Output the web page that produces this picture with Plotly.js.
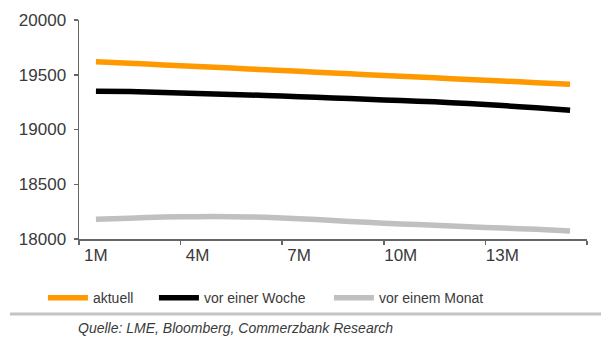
<!DOCTYPE html>
<html>
<head>
<meta charset="utf-8">
<script src="https://cdn.plot.ly/plotly-3.0.1.min.js"></script>
<style>
  html, body { margin: 0; padding: 0; background: #fff; }
  #chart { width: 601px; height: 345px; }
</style>
</head>
<body>
<div id="chart"></div>
<script>
// Forward curve tenors (months)
const tenors = ['1M','2M','3M','4M','5M','6M','7M','8M','9M','10M','11M','12M','13M','14M','15M'];
const tickLabels = ['1M','4M','7M','10M','13M'];

// Prices per tenor
const aktuell = [19618, 19604, 19590, 19575, 19561, 19546, 19531, 19516, 19501, 19487, 19472, 19457, 19442, 19428, 19414];
const vorEinerWoche = [19349, 19346, 19338, 19329, 19320, 19311, 19299, 19288, 19276, 19264, 19253, 19237, 19219, 19198, 19175];
const vorEinemMonat = [18180, 18190, 18200, 18204, 18204, 18198, 18186, 18168, 18152, 18138, 18125, 18112, 18100, 18088, 18073];

const seriesNames = ['aktuell', 'vor einer Woche', 'vor einem Monat'];
const seriesColors = ['#FF9900', '#000000', '#C0C0C0'];
const sourceText = 'Quelle: LME, Bloomberg, Commerzbank Research';

// numeric positions for each tenor; ticks sit on the category boundaries
const pos = tenors.map((_, i) => i + 1);
const labelPos = tickLabels.map(t => tenors.indexOf(t) + 1);
const boundaries = [0].concat(labelPos.map(p => p + 2)).map(b => b + 0.5);

// each series gets its own legend box so the entries can be spaced freely
const legendIds = ['legend', 'legend2', 'legend3'];
const legendX = [-0.071, 0.1475, 0.492];

const traces = [aktuell, vorEinerWoche, vorEinemMonat].map((vals, k) => ({
  type: 'scatter',
  mode: 'lines',
  x: pos,
  y: vals,
  name: seriesNames[k],
  legend: legendIds[k],
  line: { color: seriesColors[k], width: 5.5, shape: 'spline', smoothing: 0.6 },
  hoverinfo: 'skip'
}));

const textColor = '#3a3a3a';
const axisColor = '#666666';

const layout = {
  width: 601,
  height: 345,
  margin: { l: 79, r: 14, t: 20, b: 106 },
  paper_bgcolor: '#ffffff',
  plot_bgcolor: '#ffffff',
  font: { family: 'Liberation Sans, Arial, sans-serif', color: textColor },
  showlegend: true,
  xaxis: {
    range: [0.5, 15.5],
    showgrid: false,
    zeroline: false,
    showline: true,
    linecolor: axisColor,
    linewidth: 1.5,
    tickmode: 'array',
    tickvals: labelPos,
    ticktext: tickLabels,
    ticks: '',
    tickfont: { size: 17, color: textColor },
    minor: {
      tickmode: 'array',
      tickvals: boundaries,
      ticks: 'outside',
      ticklen: 4,
      tickwidth: 1.5,
      tickcolor: axisColor,
      showgrid: false
    },
    fixedrange: true
  },
  yaxis: {
    range: [18000, 20000],
    tickmode: 'linear',
    tick0: 18000,
    dtick: 500,
    tickformat: 'd',
    showgrid: false,
    zeroline: false,
    showline: true,
    linecolor: axisColor,
    linewidth: 1.5,
    ticks: 'outside',
    ticklen: 4,
    tickwidth: 1.5,
    tickcolor: axisColor,
    tickfont: { size: 17, color: textColor },
    ticklabelstandoff: 4,
    fixedrange: true
  },
  shapes: [{
    type: 'line',
    xref: 'paper', yref: 'paper',
    x0: -0.136, x1: 1.03,
    y0: -0.342, y1: -0.342,
    line: { color: '#C4C4C4', width: 3 }
  }],
  annotations: [{
    xref: 'paper', yref: 'paper',
    x: -0.006, y: -0.406,
    xanchor: 'left', yanchor: 'middle',
    showarrow: false,
    text: sourceText,
    font: { size: 14, color: textColor, style: 'italic' }
  }]
};

legendIds.forEach((id, k) => {
  layout[id] = {
    orientation: 'h',
    x: legendX[k],
    xanchor: 'left',
    y: -0.27,
    yanchor: 'middle',
    font: { size: 14, color: textColor },
    itemwidth: 40,
    bgcolor: 'rgba(0,0,0,0)'
  };
});

Plotly.newPlot('chart', traces, layout, { displayModeBar: false, staticPlot: true });
</script>
</body>
</html>
